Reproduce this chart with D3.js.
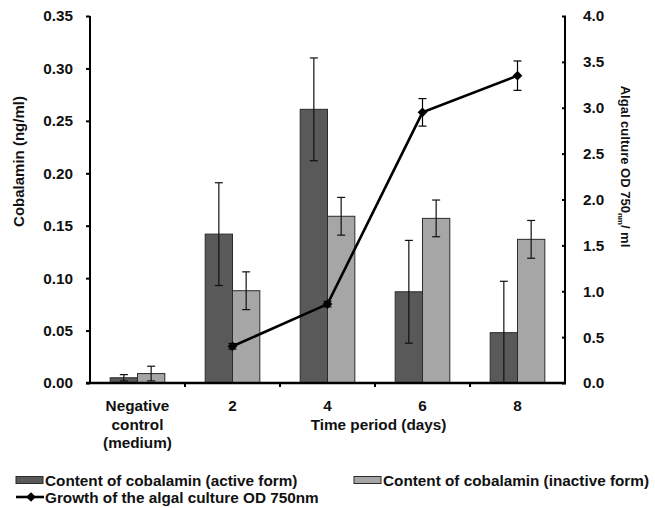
<!DOCTYPE html>
<html>
<head>
<meta charset="utf-8">
<script src="https://cdn.jsdelivr.net/npm/d3@7"></script>
<style>
  html, body { margin: 0; padding: 0; background: #fff; }
  svg { display: block; font-family: "Liberation Sans", Arial, sans-serif; }
</style>
</head>
<body>
<div id="chart"></div>
<script>
// ---- data ----
const categories = ["Negative control (medium)", "2", "4", "6", "8"];
const activeValues = [0.005, 0.142, 0.261, 0.087, 0.048];
const activeErrors = [0.003, 0.049, 0.049, 0.049, 0.049];
const inactiveValues = [0.009, 0.088, 0.159, 0.157, 0.137];
const inactiveErrors = [0.007, 0.018, 0.018, 0.0175, 0.018];
const growthCategories = ["2", "4", "6", "8"];
const growthValues = [0.40, 0.86, 2.95, 3.35];
const growthErrors = [0.03, 0.03, 0.15, 0.16];
const leftTicks = [0, 0.05, 0.10, 0.15, 0.20, 0.25, 0.30, 0.35];
const rightTicks = [0, 0.5, 1.0, 1.5, 2.0, 2.5, 3.0, 3.5, 4.0];
const seriesNames = ["Content of cobalamin (active form)", "Content of cobalamin (inactive form)", "Growth of the algal culture OD 750nm"];

// ---- layout ----
const W = 655, H = 508;
const pL = 90, pR = 565, pT = 16, pB = 383;
const colDark = "#595959", colLight = "#a6a6a6";
const FS = 15.3;

const svg = d3.select("#chart").append("svg").attr("width", W).attr("height", H);

const x0 = d3.scaleBand().domain(categories).range([pL, pR]).padding(0);
const groupW = x0.bandwidth() * 0.575;
const x1 = d3.scaleBand().domain(["active", "inactive"]).range([0, groupW]).padding(0);
const yL = d3.scaleLinear().domain([0, 0.35]).range([pB, pT]);
const yR = d3.scaleLinear().domain([0, 4]).range([pB, pT]);

const groupOffset = (x0.bandwidth() - groupW) / 2;

const series = [
  { key: "active", vals: activeValues, errs: activeErrors, color: colDark },
  { key: "inactive", vals: inactiveValues, errs: inactiveErrors, color: colLight }
];

// bars
series.forEach(s => {
  const g = svg.append("g");
  g.selectAll("rect").data(categories).join("rect")
    .attr("x", (c) => x0(c) + groupOffset + x1(s.key))
    .attr("y", (c, i) => yL(s.vals[i]))
    .attr("width", x1.bandwidth())
    .attr("height", (c, i) => yL(0) - yL(s.vals[i]))
    .attr("fill", s.color)
    .attr("stroke", "#2b2b2b")
    .attr("stroke-width", 1);
});
// bar error bars
series.forEach(s => {
  const g = svg.append("g").attr("stroke", "#111").attr("stroke-width", 1.2);
  categories.forEach((c, i) => {
    const cx = x0(c) + groupOffset + x1(s.key) + x1.bandwidth() / 2;
    const y1 = yL(s.vals[i] + s.errs[i]), y2 = yL(Math.max(0, s.vals[i] - s.errs[i]));
    g.append("line").attr("x1", cx).attr("x2", cx).attr("y1", y1).attr("y2", y2);
    g.append("line").attr("x1", cx - 4).attr("x2", cx + 4).attr("y1", y1).attr("y2", y1);
    g.append("line").attr("x1", cx - 4).attr("x2", cx + 4).attr("y1", y2).attr("y2", y2);
  });
});

// line
const lx = c => x0(c) + x0.bandwidth() / 2;
svg.append("path")
  .datum(growthCategories.map((c, i) => [lx(c), yR(growthValues[i])]))
  .attr("d", d3.line())
  .attr("fill", "none").attr("stroke", "#000").attr("stroke-width", 2.6);
const eg = svg.append("g").attr("stroke", "#000").attr("stroke-width", 1.2);
growthCategories.forEach((c, i) => {
  const cx = lx(c);
  const y1 = yR(growthValues[i] + growthErrors[i]), y2 = yR(growthValues[i] - growthErrors[i]);
  eg.append("line").attr("x1", cx).attr("x2", cx).attr("y1", y1).attr("y2", y2);
  eg.append("line").attr("x1", cx - 4).attr("x2", cx + 4).attr("y1", y1).attr("y2", y1);
  eg.append("line").attr("x1", cx - 4).attr("x2", cx + 4).attr("y1", y2).attr("y2", y2);
});
const diamond = d3.symbol().type(d3.symbolDiamond2).size(60);
svg.append("g").selectAll("path").data(growthCategories).join("path")
  .attr("d", diamond)
  .attr("transform", (c, i) => `translate(${lx(c)},${yR(growthValues[i])})`)
  .attr("fill", "#000");

// axes
const axisFont = g => g.selectAll("text").attr("font-size", FS).attr("font-weight", "bold")
  .attr("font-family", '"Liberation Sans", Arial, sans-serif').attr("fill", "#111");

const axL = svg.append("g").attr("transform", `translate(${pL},0)`)
  .call(d3.axisLeft(yL).tickValues(leftTicks).tickFormat(d3.format(".2f")).tickSize(4).tickPadding(13))
  .call(axisFont);
axL.select(".domain").attr("stroke-width", 2).attr("d", `M0,${pT}V${pB}`);
axL.selectAll(".tick line").attr("stroke-width", 2);

const axR = svg.append("g").attr("transform", `translate(${pR},0)`)
  .call(d3.axisRight(yR).tickValues(rightTicks).tickFormat(d3.format(".1f")).tickSize(0).tickPadding(18))
  .call(axisFont);
axR.select(".domain").attr("stroke-width", 2).attr("d", `M0,${pT}V${pB}`);
axR.selectAll(".tick").append("line").attr("x1", -3).attr("x2", 1).attr("stroke", "#000").attr("stroke-width", 2);

// x axis
const axX = svg.append("g").attr("transform", `translate(0,${pB})`)
  .call(d3.axisBottom(x0).tickSize(0).tickFormat(""));
axX.select(".domain").attr("stroke-width", 2.5).attr("d", `M${pL - 4},0H${pR}`);
axX.selectAll(".tick").remove();
const tickG = svg.append("g");
categories.slice(1).forEach(c => {
  tickG.append("line").attr("x1", x0(c)).attr("x2", x0(c)).attr("y1", pB).attr("y2", pB + 4)
    .attr("stroke", "#000").attr("stroke-width", 2);
});

// category labels
const catG = svg.append("g").attr("font-size", FS).attr("font-weight", "bold").attr("fill", "#111")
  .attr("text-anchor", "middle");
categories.forEach(c => {
  const cx = x0(c) + x0.bandwidth() / 2;
  const words = c === categories[0] ? ["Negative", "control", "(medium)"] : [c];
  const t = catG.append("text").attr("x", cx).attr("y", 411);
  words.forEach((w, k) => t.append("tspan").attr("x", cx).attr("dy", k === 0 ? 0 : 18.5).text(w));
});
svg.append("text").attr("x", 378.5).attr("y", 430).attr("text-anchor", "middle")
  .attr("font-size", FS).attr("font-weight", "bold").attr("fill", "#111").text("Time period (days)");

// axis titles
svg.append("text").attr("transform", "translate(24,161.5) rotate(-90)").attr("text-anchor", "middle")
  .attr("font-size", 15).attr("font-weight", "bold").attr("fill", "#111").text("Cobalamin (ng/ml)");
const rt = svg.append("text").attr("transform", "translate(621,166.5) rotate(90)").attr("text-anchor", "middle")
  .attr("font-size", 13).attr("font-weight", "bold").attr("fill", "#111");
rt.append("tspan").text("Algal culture OD 750");
rt.append("tspan").attr("font-size", 8).attr("dy", 3).text("nm");
rt.append("tspan").attr("dy", -3).text("/ ml");

// legend
const lg = svg.append("g").attr("font-size", FS).attr("font-weight", "bold").attr("fill", "#111");
const legendItems = [
  { name: seriesNames[0], type: "bar", color: colDark, x: 16, y: 480 },
  { name: seriesNames[1], type: "bar", color: colLight, x: 354, y: 480 },
  { name: seriesNames[2], type: "line", x: 16, y: 497 }
];
legendItems.forEach(it => {
  if (it.type === "bar") {
    lg.append("rect").attr("x", it.x).attr("y", it.y - 3.5).attr("width", 27).attr("height", 7)
      .attr("fill", it.color).attr("stroke", "#2b2b2b").attr("stroke-width", 1);
  } else {
    lg.append("line").attr("x1", it.x).attr("x2", it.x + 28).attr("y1", it.y).attr("y2", it.y)
      .attr("stroke", "#000").attr("stroke-width", 2.6);
    lg.append("path").attr("d", diamond).attr("transform", `translate(${it.x + 15},${it.y})`).attr("fill", "#000");
  }
  lg.append("text").attr("x", it.x + 29).attr("y", it.y).attr("dy", "0.36em").text(it.name);
});
</script>
</body>
</html>
